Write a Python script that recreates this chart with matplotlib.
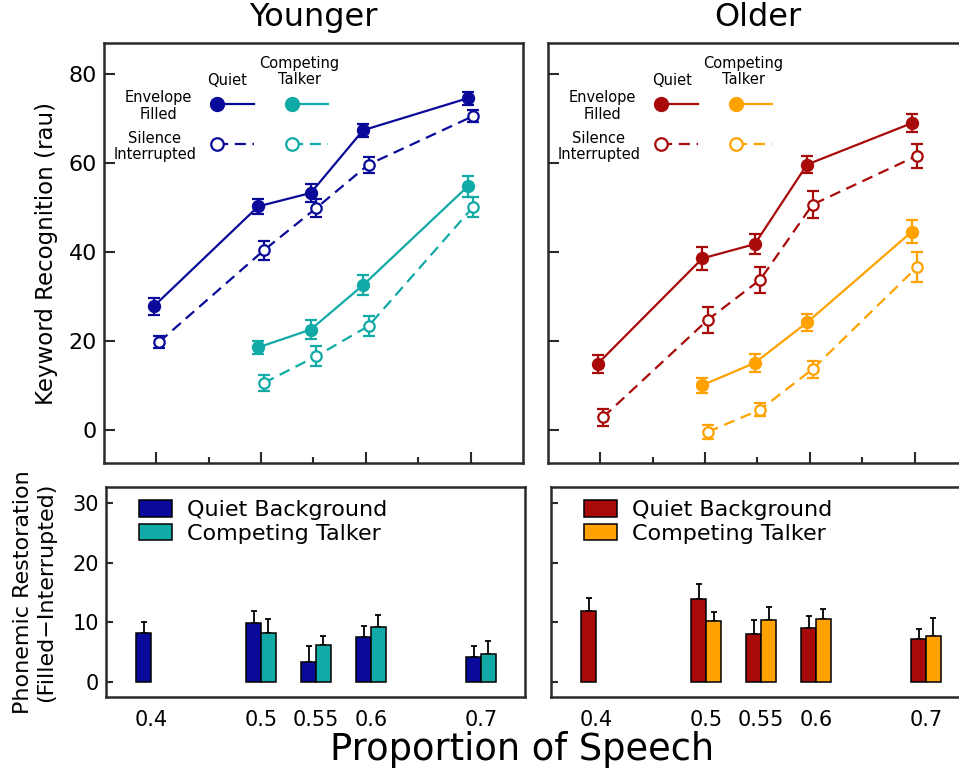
import numpy as np
import matplotlib
matplotlib.use("Agg")
import matplotlib.pyplot as plt
from matplotlib.lines import Line2D
from matplotlib.legend_handler import HandlerLine2DCompound

# proportion of speech conditions
props = [0.4, 0.5, 0.55, 0.6, 0.7]
props_ct = [0.5, 0.55, 0.6, 0.7]

# keyword recognition (rau), younger listeners
yq_filled = [27.8, 50.3, 53.3, 67.4, 74.6]
yq_filled_err = [2.0, 1.7, 2.0, 1.5, 1.5]
yq_interr = [19.8, 40.4, 49.9, 59.7, 70.6]
yq_interr_err = [1.3, 2.2, 2.0, 1.8, 1.3]
yc_filled = [18.6, 22.6, 32.6, 54.8]
yc_filled_err = [1.4, 2.2, 2.2, 2.3]
yc_interr = [10.6, 16.6, 23.4, 50.2]
yc_interr_err = [1.8, 2.3, 2.2, 2.2]

# keyword recognition (rau), older listeners
oq_filled = [14.9, 38.6, 41.8, 59.7, 69.0]
oq_filled_err = [2.0, 2.5, 2.2, 2.0, 2.1]
oq_interr = [2.9, 24.8, 33.8, 50.7, 61.7]
oq_interr_err = [1.9, 2.9, 2.9, 3.0, 2.7]
oc_filled = [10.1, 15.1, 24.2, 44.6]
oc_filled_err = [1.7, 2.1, 1.9, 2.6]
oc_interr = [-0.4, 4.6, 13.7, 36.7]
oc_interr_err = [1.5, 1.4, 1.9, 3.4]

# phonemic restoration (filled - interrupted)
y_rest_quiet = [8.2, 9.9, 3.3, 7.5, 4.2]
y_rest_quiet_err = [1.9, 2.0, 2.7, 1.9, 1.8]
y_rest_ct = [8.2, 6.2, 9.2, 4.7]
y_rest_ct_err = [2.3, 1.5, 2.0, 2.2]
o_rest_quiet = [11.9, 13.9, 8.0, 9.0, 7.2]
o_rest_quiet_err = [2.2, 2.5, 2.4, 2.1, 1.7]
o_rest_ct = [10.2, 10.4, 10.5, 7.7]
o_rest_ct_err = [1.5, 2.2, 1.7, 3.0]

BLUE = "#0a0a9a"
TEAL = "#12aaa6"
RED = "#a80a0a"
ORANGE = "#ffa200"
SPINE = "#2a2a2a"
DASH = (0, (5, 3))

plt.rcParams["font.family"] = ["DejaVu Sans"]


class MarkerLeft(HandlerLine2DCompound):
    # legend key: marker at the left end, line running to the right
    def get_xdata(self, legend, xdescent, ydescent, width, height, fontsize):
        return [-xdescent, -xdescent + width], [-xdescent]


def series(ax, x, y, err, color, filled, dodge=0.0026):
    x = np.asarray(x) + (-dodge if filled else dodge)
    ax.errorbar(x, y, yerr=err, color=color, ecolor=color,
                ls="-" if filled else DASH, lw=1.6,
                marker="o", ms=8 if filled else 7.5,
                mfc=color if filled else "white", mec=color, mew=1.6,
                elinewidth=1.6, capsize=4, capthick=1.6, zorder=3)


def style_spines(ax):
    for s in ax.spines.values():
        s.set_color(SPINE)
        s.set_linewidth(1.8)


def draw_group(ax_top, ax_bot, qf, qfe, qi, qie, cf, cfe, ci, cie,
               rq, rqe, rc, rce, cq, cc, title, show_labels):
    series(ax_top, props, qf, qfe, cq, True)
    series(ax_top, props, qi, qie, cq, False)
    series(ax_top, props_ct, cf, cfe, cc, True)
    series(ax_top, props_ct, ci, cie, cc, False)

    ax_top.set_xlim(0.35, 0.75)
    ax_top.set_ylim(-7.4, 87)
    ax_top.set_xticks([0.4, 0.5, 0.6, 0.7])
    ax_top.set_xticks([0.45, 0.55, 0.65], minor=True)
    ax_top.set_yticks([0, 20, 40, 60, 80])
    ax_top.tick_params(axis="both", which="major", direction="in", length=8,
                       width=1.5, color=SPINE, labelsize=16)
    ax_top.tick_params(axis="x", which="minor", direction="in", length=4.5,
                       width=1.5, color=SPINE)
    ax_top.tick_params(axis="x", labelbottom=False)
    ax_top.tick_params(axis="y", labelleft=show_labels, pad=5)
    style_spines(ax_top)
    ax_top.set_title(title, fontsize=23, pad=12)

    # legend for the line panel
    fs = 10.5
    handles = [
        Line2D([], [], color=cq, ls="-", lw=1.6, marker="o", ms=10, mfc=cq, mec=cq),
        Line2D([], [], color=cq, ls=DASH, lw=1.6, marker="o", ms=9,
               mfc="white", mec=cq, mew=1.6),
        Line2D([], [], color=cc, ls="-", lw=1.6, marker="o", ms=10, mfc=cc, mec=cc),
        Line2D([], [], color=cc, ls=DASH, lw=1.6, marker="o", ms=9,
               mfc="white", mec=cc, mew=1.6),
    ]
    ax_top.legend(handles, [""] * 4, ncol=2, loc="upper left",
                  bbox_to_anchor=(0.253, 0.89), frameon=False, borderpad=0,
                  fontsize=fs, handlelength=2.5, handletextpad=0,
                  columnspacing=2.6, handleheight=1.6, labelspacing=1.47,
                  handler_map={Line2D: MarkerLeft()})
    ax_top.text(0.295, 0.912, "Quiet", transform=ax_top.transAxes,
                ha="center", va="center", fontsize=fs)
    ax_top.text(0.467, 0.932, "Competing\nTalker", transform=ax_top.transAxes,
                ha="center", va="center", fontsize=fs, linespacing=1.1)
    ax_top.text(0.129, 0.85, "Envelope\nFilled", transform=ax_top.transAxes,
                ha="center", va="center", fontsize=fs, linespacing=1.1)
    ax_top.text(0.121, 0.754, "Silence\nInterrupted", transform=ax_top.transAxes,
                ha="center", va="center", fontsize=fs, linespacing=1.1)

    # restoration bars: quiet to the left of the tick, competing to the right
    w = 0.0135
    ax_bot.bar(props, rq, width=-w, align="edge", color=cq, edgecolor="black",
               lw=1.1, label="Quiet Background", zorder=2)
    ax_bot.bar(props_ct, rc, width=w, align="edge", color=cc, edgecolor="black",
               lw=1.1, label="Competing Talker", zorder=2)
    ax_bot.errorbar(np.asarray(props) - w / 2, rq, yerr=[np.zeros(len(rq)), rqe],
                    fmt="none", ecolor="black", elinewidth=1.3, capsize=2.5,
                    capthick=1.3, zorder=1)
    ax_bot.errorbar(np.asarray(props_ct) + w / 2, rc, yerr=[np.zeros(len(rc)), rce],
                    fmt="none", ecolor="black", elinewidth=1.3, capsize=2.5,
                    capthick=1.3, zorder=1)
    ax_bot.set_xlim(0.359, 0.740)
    ax_bot.set_ylim(-2.5, 32.7)
    ax_bot.set_xticks(props)
    ax_bot.set_xticklabels([f"{p:g}" for p in props])
    ax_bot.set_yticks([0, 10, 20, 30])
    ax_bot.tick_params(axis="x", length=0, pad=9, labelsize=15)
    ax_bot.tick_params(axis="y", direction="in", length=5, width=1.5,
                       color=SPINE, labelsize=15, labelleft=show_labels, pad=5)
    style_spines(ax_bot)
    ax_bot.legend(loc="upper left", bbox_to_anchor=(0.053, 0.99), frameon=False,
                  fontsize=16, handlelength=1.45, handleheight=0.75,
                  handletextpad=0.7, labelspacing=0.15, borderpad=0)


fig = plt.figure(figsize=(9.59, 7.73), dpi=100)
ax_yt = fig.add_axes([0.1084, 0.4010, 0.4369, 0.5433])
ax_ot = fig.add_axes([0.5714, 0.4010, 0.4369, 0.5433])
ax_yb = fig.add_axes([0.1105, 0.0983, 0.4369, 0.2717])
ax_ob = fig.add_axes([0.5746, 0.0983, 0.4369, 0.2717])

draw_group(ax_yt, ax_yb, yq_filled, yq_filled_err, yq_interr, yq_interr_err,
           yc_filled, yc_filled_err, yc_interr, yc_interr_err,
           y_rest_quiet, y_rest_quiet_err, y_rest_ct, y_rest_ct_err,
           BLUE, TEAL, "Younger", True)
draw_group(ax_ot, ax_ob, oq_filled, oq_filled_err, oq_interr, oq_interr_err,
           oc_filled, oc_filled_err, oc_interr, oc_interr_err,
           o_rest_quiet, o_rest_quiet_err, o_rest_ct, o_rest_ct_err,
           RED, ORANGE, "Older", False)

ax_yt.set_ylabel("Keyword Recognition (rau)", fontsize=16.5, labelpad=8)
ax_yb.set_ylabel("Phonemic Restoration\n(Filled\u2212Interrupted)", fontsize=16,
                 labelpad=12, linespacing=1.15)
fig.text(0.544, 0.03, "Proportion of Speech", ha="center", va="center",
         fontsize=26.5)

fig.savefig("out.png", dpi=100)
